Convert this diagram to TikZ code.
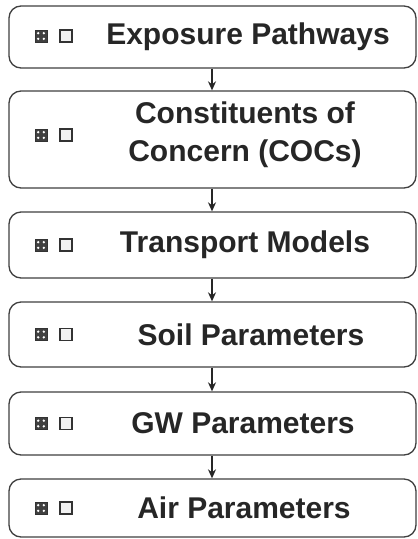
\documentclass[tikz,border=0pt]{standalone}
\usepackage{fontspec}
\setmainfont{Liberation Sans}
\usetikzlibrary{arrows.meta,calc}
\tikzset{
  flowbox/.style={draw=black!75, line width=1.3pt, rounded corners=12pt, minimum width=407pt, inner sep=0pt},
  lbl/.style={font=\fontsize{30}{38}\selectfont\bfseries, text=black!85, align=center, inner sep=0pt},
  iconA/.style={draw=black!80, fill=black!75, line width=0.8pt, minimum size=12pt, inner sep=0pt},
  iconB/.style={draw=black!80, fill=black!5, line width=1.4pt, minimum size=12pt, inner sep=0pt},
  flow/.style={draw=black!85, line width=1.3pt, -{Stealth[length=9pt,width=8pt]}}
}
\newcommand{\icons}[2]{%
  \node[iconA] (#1a) at (41,#2) {};
  \fill[white] ($(#1a.center)+(-2.8,-2.8)$) circle (1.3pt) ($(#1a.center)+(2.8,-2.8)$) circle (1.3pt)
               ($(#1a.center)+(-2.8,2.8)$) circle (1.3pt) ($(#1a.center)+(2.8,2.8)$) circle (1.3pt);
  \node[iconB] (#1b) at (66,#2) {};
}
\begin{document}
\begin{tikzpicture}[x=1pt,y=-1pt]
\useasboundingbox[fill=white] (0,0) rectangle (418,539);
\node[flowbox, minimum height=62pt] (b1) at (212.5,37) {};
\node[flowbox, minimum height=97pt] (b2) at (212.5,139.5) {};
\node[flowbox, minimum height=66pt] (b3) at (212.5,245) {};
\node[flowbox, minimum height=65pt] (b4) at (212.5,334.5) {};
\node[flowbox, minimum height=63pt] (b5) at (212.5,423.5) {};
\node[flowbox, minimum height=58pt] (b6) at (212.5,508) {};
\node[lbl] (t1) at (248,37) {Exposure Pathways};
\node[lbl] (t2) at (245,135) {Constituents of\\Concern (COCs)};
\node[lbl] (t3) at (245,245) {Transport Models};
\node[lbl] (t4) at (251,334.5) {Soil Parameters};
\node[lbl] (t5) at (243,423.5) {GW Parameters};
\node[lbl] (t6) at (244,508) {Air Parameters};
\icons{i1}{36}
\icons{i2}{135}
\icons{i3}{245}
\icons{i4}{334.5}
\icons{i5}{423.5}
\icons{i6}{508}
\draw[flow] (b1.south -| 212,0) -- (b2.north -| 212,0);
\draw[flow] (b2.south -| 212,0) -- (b3.north -| 212,0);
\draw[flow] (b3.south -| 212,0) -- (b4.north -| 212,0);
\draw[flow] (b4.south -| 212,0) -- (b5.north -| 212,0);
\draw[flow] (b5.south -| 212,0) -- (b6.north -| 212,0);
\end{tikzpicture}
\end{document}
